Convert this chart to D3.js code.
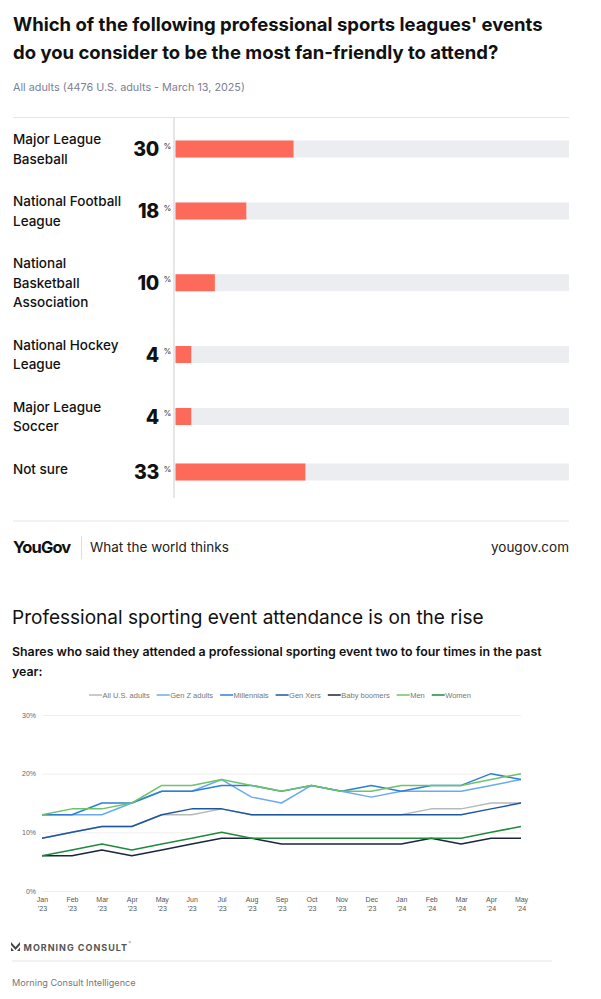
<!DOCTYPE html>
<html>
<head>
<meta charset="utf-8">
<script src="https://cdn.jsdelivr.net/npm/d3@7/dist/d3.min.js"></script>
<style>
  body { margin: 0; background: #fff; }
  svg { display: block; }
</style>
</head>
<body>
<div id="chart"></div>
<script>
// ---- survey (top chart) ----
var leagues = ["Major League Baseball", "National Football League", "National Basketball Association",
               "National Hockey League", "Major League Soccer", "Not sure"];
var shares = [30, 18, 10, 4, 4, 33];

// ---- attendance (bottom chart) ----
var months = ["Jan '23", "Feb '23", "Mar '23", "Apr '23", "May '23", "Jun '23", "Jul '23", "Aug '23", "Sep '23",
              "Oct '23", "Nov '23", "Dec '23", "Jan '24", "Feb '24", "Mar '24", "Apr '24", "May '24"];
var allAdults   = [9, 10, 11, 11, 13, 13, 14, 13, 13, 13, 13, 13, 13, 14, 14, 15, 15];
var genZ        = [13, 13, 13, 15, 17, 17, 19, 16, 15, 18, 17, 16, 17, 17, 17, 18, 19];
var millennials = [13, 13, 15, 15, 17, 17, 18, 18, 17, 18, 17, 18, 17, 18, 18, 20, 19];
var genX        = [9, 10, 11, 11, 13, 14, 14, 13, 13, 13, 13, 13, 13, 13, 13, 14, 15];
var boomers     = [6, 6, 7, 6, 7, 8, 9, 9, 8, 8, 8, 8, 8, 9, 8, 9, 9];
var men         = [13, 14, 14, 15, 18, 18, 19, 18, 17, 18, 17, 17, 18, 18, 18, 19, 20];
var women       = [6, 7, 8, 7, 8, 9, 10, 9, 9, 9, 9, 9, 9, 9, 9, 10, 11];
var seriesNames = ["All U.S. adults", "Gen Z adults", "Millennials", "Gen Xers", "Baby boomers", "Men", "Women"];
var yTicks = [0, 10, 20, 30];

var W = 601, H = 999;
var sans = "Inter, 'Noto Sans', sans-serif";
var arial = "'Liberation Sans', Arial, sans-serif";

var svg = d3.select("#chart").append("svg")
    .attr("width", W).attr("height", H)
    .style("background", "#fff");

// shrink/grow a text so it spans a given width
function fitWidth(sel, target) {
    var fs = parseFloat(sel.attr("font-size"));
    var w = sel.node().getComputedTextLength();
    sel.attr("font-size", (fs * target / w).toFixed(2));
}

// ================= TOP: YouGov =================
var t1 = svg.append("text").attr("x", 13).attr("y", 31)
    .attr("font-family", sans).attr("font-weight", 700).attr("font-size", 18).attr("fill", "#111")
    .text("Which of the following professional sports leagues' events");
fitWidth(t1, 530);
var t2 = svg.append("text").attr("x", 13).attr("y", 59)
    .attr("font-family", sans).attr("font-weight", 700).attr("font-size", t1.attr("font-size")).attr("fill", "#111")
    .text("do you consider to be the most fan-friendly to attend?");

var st = svg.append("text").attr("x", 13).attr("y", 91)
    .attr("font-family", sans).attr("font-size", 12).attr("fill", "#7c8098")
    .text("All adults (4476 U.S. adults - March 13, 2025)");
fitWidth(st, 232);

var barLeft = 175.5, barRight = 569;
var xBar = d3.scaleLinear().domain([0, 100]).range([barLeft, barRight]);

svg.append("line").attr("x1", 13).attr("x2", barRight).attr("y1", 117.5).attr("y2", 117.5)
    .attr("stroke", "#e6e6e6");
svg.append("line").attr("x1", barLeft - 1.5).attr("x2", barLeft - 1.5).attr("y1", 117).attr("y2", 498)
    .attr("stroke", "#dcdde3").attr("stroke-width", 1.5);

// wrap category names into lines
var labelFont = 13.5, lineH = 19.5;
function wrapLines(name) {
    var words = name.split(" "), lines = [], cur = "";
    var probe = svg.append("text").attr("font-family", sans).attr("font-weight", 500).attr("font-size", labelFont);
    words.forEach(function(w) {
        var test = cur ? cur + " " + w : w;
        probe.text(test);
        if (probe.node().getComputedTextLength() > 118 && cur) { lines.push(cur); cur = w; }
        else cur = test;
    });
    lines.push(cur);
    probe.remove();
    return lines;
}

var rows = [];
var base = 144;
leagues.forEach(function(name, i) {
    var lines = wrapLines(name);
    var off = lines.length === 1 ? -1.5 : (lines.length - 1) * lineH / 2 - 4.75;
    rows.push({name: name, value: shares[i], lines: lines, base: base, cy: base + off});
    base += 62 + Math.max(0, lines.length - 2) * lineH;
});

var barH = 17;
var row = svg.append("g").selectAll("g").data(rows).enter().append("g");

row.append("text")
    .attr("x", 13).attr("y", function(d) { return d.base; })
    .attr("font-family", sans).attr("font-weight", 500).attr("font-size", labelFont).attr("fill", "#111")
    .selectAll("tspan").data(function(d) { return d.lines; }).enter().append("tspan")
    .attr("x", 13).attr("dy", function(d, i) { return i ? lineH : 0; })
    .text(function(d) { return d; });

row.append("rect")
    .attr("x", barLeft).attr("y", function(d) { return d.cy - barH / 2; })
    .attr("width", barRight - barLeft).attr("height", barH)
    .attr("fill", "#ecedf1");
row.append("rect")
    .attr("x", barLeft).attr("y", function(d) { return d.cy - barH / 2; })
    .attr("width", function(d) { return xBar(d.value) - barLeft; }).attr("height", barH)
    .attr("fill", "#fe6a59");

row.append("text")
    .attr("x", 159).attr("y", function(d) { return d.cy + 7; })
    .attr("text-anchor", "end")
    .attr("font-family", sans).attr("font-weight", 800).attr("font-size", 19.5).attr("letter-spacing", -0.3)
    .attr("fill", "#111")
    .text(function(d) { return d.value; });
row.append("text")
    .attr("x", 163.5).attr("y", function(d) { return d.cy - 0.5; })
    .attr("font-family", sans).attr("font-size", 8).attr("fill", "#333")
    .text("%");

// footer
svg.append("line").attr("x1", 13).attr("x2", barRight).attr("y1", 521).attr("y2", 521).attr("stroke", "#e6e6e6");
svg.append("text").attr("x", 13).attr("y", 553)
    .attr("font-family", sans).attr("font-weight", 700).attr("font-size", 16.5).attr("letter-spacing", -0.9)
    .attr("fill", "#111").text("YouGov");
svg.append("line").attr("x1", 81.5).attr("x2", 81.5).attr("y1", 536).attr("y2", 559).attr("stroke", "#dedede");
svg.append("text").attr("x", 90).attr("y", 552)
    .attr("font-family", sans).attr("font-size", 13.5).attr("fill", "#222")
    .text("What the world thinks");
svg.append("text").attr("x", barRight).attr("y", 552).attr("text-anchor", "end")
    .attr("font-family", sans).attr("font-size", 13.5).attr("fill", "#222")
    .text("yougov.com");

// ================= BOTTOM: Morning Consult =================
var lt = svg.append("text").attr("x", 12).attr("y", 624)
    .attr("font-family", sans).attr("font-size", 19.5).attr("fill", "#111")
    .text("Professional sporting event attendance is on the rise");
fitWidth(lt, 472);
var ls = svg.append("text").attr("x", 12).attr("y", 656)
    .attr("font-family", sans).attr("font-weight", 600).attr("font-size", 13).attr("fill", "#111")
    .text("Shares who said they attended a professional sporting event two to four times in the past");
fitWidth(ls, 530);
svg.append("text").attr("x", 12).attr("y", 676)
    .attr("font-family", sans).attr("font-weight", 600).attr("font-size", ls.attr("font-size")).attr("fill", "#111")
    .text("year:");

var colors = ["#b8b8b8", "#6aaaf0", "#2f7fd8", "#1d56a4", "#1b2540", "#6cc36a", "#1f8a3b"];
var seriesData = [allAdults, genZ, millennials, genX, boomers, men, women];

var x = d3.scalePoint().domain(months).range([42, 521]);
var y = d3.scaleLinear().domain([0, 30]).range([891, 715]);

// grid + y labels
var yAxis = svg.append("g")
    .attr("transform", "translate(42,0)")
    .call(d3.axisLeft(y).tickValues(yTicks).tickSize(-(521 - 42)).tickPadding(6)
        .tickFormat(function(d) { return d + "%"; }));
yAxis.select(".domain").remove();
yAxis.selectAll(".tick line").attr("stroke", "#efefef");
yAxis.selectAll(".tick text").attr("font-family", arial).attr("font-size", 7).attr("fill", "#666");

// x labels (two lines)
var xAxis = svg.append("g")
    .attr("transform", "translate(0,891)")
    .call(d3.axisBottom(x).tickSize(0).tickPadding(0).tickFormat(""));
xAxis.select(".domain").remove();
xAxis.selectAll(".tick").append("text")
    .attr("text-anchor", "middle").attr("font-family", arial).attr("font-size", 7).attr("fill", "#555")
    .selectAll("tspan").data(function(d) { return d.split(" "); }).enter().append("tspan")
    .attr("x", 0).attr("y", function(d, i) { return i ? 19.5 : 10.5; })
    .text(function(d) { return d; });

var line = d3.line()
    .x(function(d, i) { return x(months[i]); })
    .y(function(d) { return y(d); });

svg.append("g").selectAll("path").data(seriesData).enter().append("path")
    .attr("d", line)
    .attr("fill", "none")
    .attr("stroke", function(d, i) { return colors[i]; })
    .attr("stroke-width", 1.5)
    .attr("stroke-linejoin", "round");

// legend
var legend = svg.append("g");
var lx = 0;
seriesNames.forEach(function(name, i) {
    var g = legend.append("g").attr("transform", "translate(" + lx + ",0)");
    g.append("line").attr("x1", 0).attr("x2", 13).attr("y1", 0).attr("y2", 0)
        .attr("stroke", colors[i]).attr("stroke-width", 1.5);
    var tx = g.append("text").attr("x", 13.5).attr("y", 2.6)
        .attr("font-family", arial).attr("font-size", 7.5).attr("fill", "#777")
        .text(name);
    lx += 13.5 + tx.node().getComputedTextLength() + 7;
});
lx -= 7;
legend.attr("transform", "translate(" + (280 - lx / 2) + ",695)");

// Morning Consult footer
svg.append("path")
    .attr("d", "M11,942 L15.5,947 L20,942 L20,945 L15.5,950 L11,945 Z M11,947.5 L14,951 L11,951 Z M20,947.5 L17,951 L20,951 Z")
    .attr("fill", "#444");
var mc = svg.append("text").attr("x", 23.5).attr("y", 950.5)
    .attr("font-family", sans).attr("font-weight", 700).attr("font-size", 9).attr("letter-spacing", 1)
    .attr("fill", "#555").text("MORNING CONSULT");
svg.append("text").attr("x", 23.5 + mc.node().getComputedTextLength() + 0.5).attr("y", 944)
    .attr("font-family", sans).attr("font-size", 3.5).attr("fill", "#777").text("®");
svg.append("line").attr("x1", 12).attr("x2", 552).attr("y1", 961).attr("y2", 961).attr("stroke", "#e6e6e6");
var mi = svg.append("text").attr("x", 12).attr("y", 986)
    .attr("font-family", sans).attr("font-size", 10.5).attr("fill", "#777")
    .text("Morning Consult Intelligence");
fitWidth(mi, 124);
</script>
</body>
</html>
